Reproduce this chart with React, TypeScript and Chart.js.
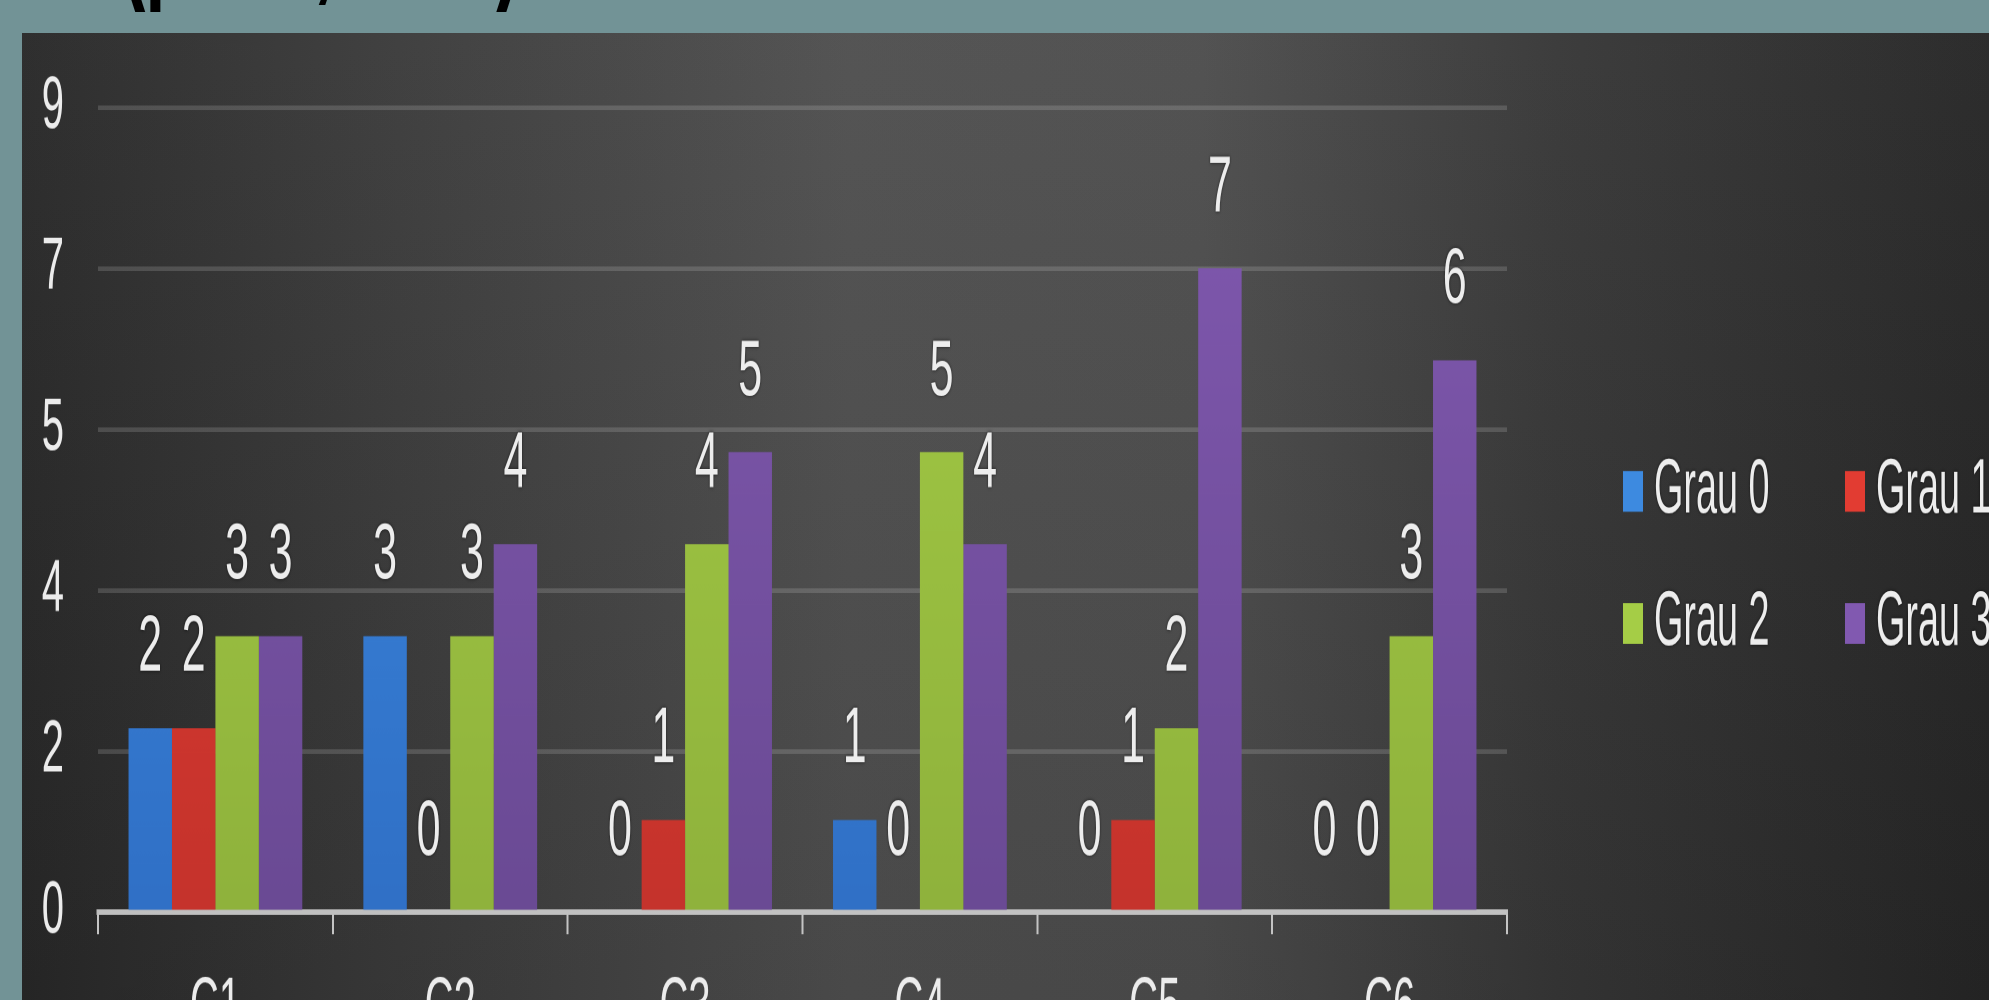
import React, { useEffect, useRef } from 'react';
import { Chart, registerables } from 'chart.js';

Chart.register(...registerables);

// ---- data ----
const categories = ['C1', 'C2', 'C3', 'C4', 'C5', 'C6'];
const seriesNames = ['Grau 0', 'Grau 1', 'Grau 2', 'Grau 3'];
const grau0 = [2, 3, 0, 1, 0, 0];
const grau1 = [2, 0, 1, 0, 1, 0];
const grau2 = [3, 3, 4, 5, 2, 3];
const grau3 = [3, 4, 5, 4, 7, 6];
const yTickValues = [0, 1.75, 3.5, 5.25, 7, 8.75];
const yTickLabels = ['0', '2', '4', '5', '7', '9'];
const titleText = '(p < 0,0001)';

// ---- styling ----
const seriesTop = ['#3d8ae0', '#e23c32', '#a5cd46', '#8159b0'];
const seriesBottom = ['#3070c6', '#c5332c', '#8fb23c', '#6a4a94'];
const FONT = '"Liberation Sans", Arial, sans-serif';
const STRETCH = 1.85;
const CW = 1989;
const CH = 584;

export default function App() {
  const ref = useRef<HTMLCanvasElement | null>(null);

  useEffect(() => {
    if (!ref.current) return;
    const seriesData = [grau0, grau1, grau2, grau3];

    const gradFor = (i: number) => (c: any) => {
      const ca = c.chart.chartArea;
      if (!ca) return seriesTop[i];
      const g = c.chart.ctx.createLinearGradient(0, ca.top, 0, ca.bottom);
      g.addColorStop(0, seriesTop[i]);
      g.addColorStop(1, seriesBottom[i]);
      return g;
    };

    const valueLabels = {
      id: 'valueLabels',
      afterDatasetsDraw(chart: any) {
        const ctx = chart.ctx;
        ctx.save();
        ctx.font = `43px ${FONT}`;
        ctx.fillStyle = '#ededed';
        ctx.textAlign = 'center';
        ctx.textBaseline = 'middle';
        ctx.shadowColor = 'rgba(0,0,0,0.6)';
        ctx.shadowBlur = 4;
        chart.data.datasets.forEach((ds: any, di: number) => {
          const meta = chart.getDatasetMeta(di);
          meta.data.forEach((el: any, i: number) => {
            ctx.fillText(String(ds.data[i]), el.x, el.y - 43);
          });
        });
        ctx.restore();
      },
    };

    const gridLegend = {
      id: 'gridLegend',
      afterDraw(chart: any) {
        const ctx = chart.ctx;
        const ca = chart.chartArea;
        const x0 = ca.right + 116;
        const colW = 222;
        const rowY = [ca.top + 207.6, ca.top + 279];
        ctx.save();
        chart.data.datasets.forEach((ds: any, i: number) => {
          const col = i % 2;
          const row = Math.floor(i / 2);
          const x = x0 + col * colW;
          const cy = rowY[row];
          ctx.fillStyle = seriesTop[i];
          ctx.fillRect(x, cy - 11, 20, 22);
          ctx.save();
          ctx.translate(x + 31, cy);
          ctx.scale(0.9, 1);
          ctx.font = `42px ${FONT}`;
          ctx.fillStyle = '#ededed';
          ctx.textAlign = 'left';
          ctx.textBaseline = 'middle';
          ctx.shadowColor = 'rgba(0,0,0,0.6)';
          ctx.shadowBlur = 4;
          ctx.fillText(ds.label, 0, 0);
          ctx.restore();
        });
        ctx.restore();
      },
    };

    const chart = new Chart(ref.current, {
      type: 'bar',
      data: {
        labels: categories,
        datasets: seriesNames.map((name, i) => ({
          label: name,
          data: seriesData[i],
          backgroundColor: gradFor(i),
          borderWidth: 0,
          categoryPercentage: 0.74,
          barPercentage: 1,
        })),
      },
      options: {
        responsive: false,
        animation: false,
        devicePixelRatio: 2,
        layout: { padding: { left: 0, right: 482, top: 55, bottom: 0 } },
        plugins: {
          legend: { display: false },
          tooltip: { enabled: false },
          title: { display: false },
        },
        scales: {
          x: {
            z: 1,
            grid: {
              drawOnChartArea: false,
              drawTicks: true,
              tickLength: 12,
              lineWidth: 2,
              color: '#c4c4c4',
              offset: true,
            },
            border: { display: true, color: 'rgba(205,205,205,0.9)', width: 3 },
            ticks: {
              color: '#ececec',
              font: { family: FONT, size: 40 },
              padding: 16,
              maxRotation: 0,
            },
            afterFit: (s: any) => {
              s.height = 91;
            },
          },
          y: {
            min: 0,
            max: 8.75,
            afterBuildTicks: (s: any) => {
              s.ticks = yTickValues.map((v) => ({ value: v }));
            },
            grid: { drawTicks: false, lineWidth: 2.5, color: 'rgba(255,255,255,0.15)' },
            border: { display: false },
            ticks: {
              color: '#ececec',
              font: { family: FONT, size: 40 },
              padding: 34,
              callback: (_v: any, i: number) => yTickLabels[i],
            },
            afterFit: (s: any) => {
              s.width = 98;
            },
          },
        },
      },
      plugins: [valueLabels, gridLegend],
    });
    return () => chart.destroy();
  }, []);

  return (
    <div
      style={{
        position: 'fixed',
        left: 0,
        top: 0,
        width: 1989,
        height: 1000,
        overflow: 'hidden',
        background: '#729396',
      }}
    >
      <div
        style={{
          position: 'absolute',
          left: 121,
          top: -131,
          font: `bold 73px ${FONT}`,
          lineHeight: '73px',
          color: '#000',
          whiteSpace: 'nowrap',
          transform: `scaleY(${STRETCH})`,
          transformOrigin: '0 0',
        }}
      >
        {titleText}
      </div>
      <div
        style={{
          position: 'absolute',
          left: 22,
          top: 33,
          right: 0,
          bottom: 0,
          background:
            'linear-gradient(to bottom, rgba(255,255,255,0.03), rgba(0,0,0,0.08)), linear-gradient(to right, #282828 0%, #3a3a3a 18%, #4f4f4f 42%, #4d4d4d 60%, #373737 78%, #262626 100%)',
        }}
      />
      <div
        style={{
          position: 'absolute',
          left: 0,
          top: 0,
          width: CW,
          height: CH,
          transform: `scaleY(${STRETCH})`,
          transformOrigin: '0 0',
        }}
      >
        <canvas ref={ref} width={CW} height={CH} style={{ display: 'block' }} />
      </div>
    </div>
  );
}
